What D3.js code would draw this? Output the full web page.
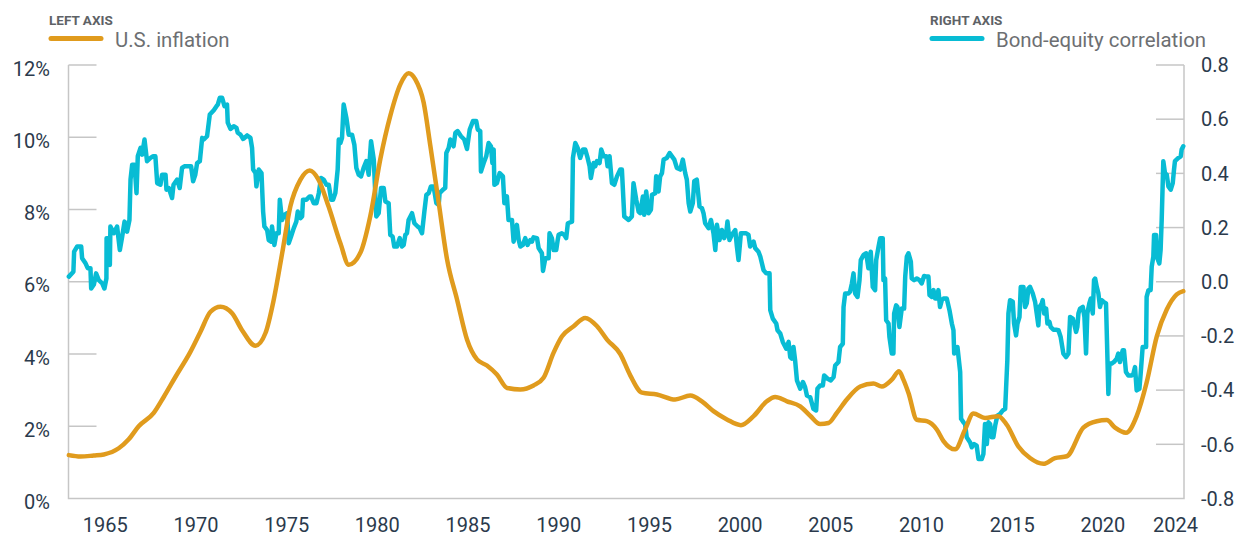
<!DOCTYPE html>
<html>
<head>
<meta charset="utf-8">
<script src="https://cdn.jsdelivr.net/npm/d3@7"></script>
<style>
  html, body { margin: 0; padding: 0; background: #fff; }
  svg { display: block; font-family: Roboto, "Liberation Sans", sans-serif; }
</style>
</head>
<body>
<svg id="chart" width="1241" height="539"></svg>
<script>

//////////////////////
// Data
//////////////////////

// U.S. inflation, % (left axis)
var inflationYears = [1963.02, 1963.66, 1964.39, 1964.95, 1965.77, 1966.32, 1966.87, 1967.70, 1968.25, 1968.90,
    1969.72, 1970.27, 1970.83, 1971.38, 1972.02, 1972.57, 1973.31, 1973.86, 1974.31, 1974.78,
    1975.23, 1975.78, 1976.30, 1976.79, 1977.34, 1978.00, 1978.45, 1979.09, 1979.64, 1980.19,
    1980.74, 1981.30, 1981.75, 1982.12, 1982.58, 1982.95, 1983.41, 1983.87, 1984.42, 1984.97,
    1985.52, 1986.07, 1986.62, 1987.18, 1987.91, 1988.64, 1989.19, 1989.74, 1990.21, 1990.85,
    1991.49, 1992.14, 1992.69, 1993.42, 1993.97, 1994.62, 1995.44, 1996.45, 1997.28, 1997.92,
    1998.56, 1999.30, 2000.07, 2000.77, 2001.50, 2001.96, 2002.61, 2003.34, 2003.89, 2004.44,
    2004.90, 2005.36, 2005.91, 2006.65, 2007.38, 2007.84, 2008.39, 2008.79, 2009.03, 2009.31,
    2009.77, 2010.32, 2010.87, 2011.24, 2011.88, 2012.43, 2012.89, 2013.53, 2014.27, 2014.73,
    2015.37, 2016.01, 2016.75, 2017.39, 2018.04, 2018.95, 2019.69, 2020.24, 2020.70, 2021.30,
    2021.89, 2022.44, 2023.00, 2023.55, 2024.10, 2024.46];
var inflationValues = [1.20, 1.16, 1.19, 1.22, 1.39, 1.64, 2.00, 2.37, 2.81, 3.37,
    4.06, 4.61, 5.17, 5.31, 5.13, 4.66, 4.23, 4.58, 5.49, 6.79,
    8.08, 8.82, 9.08, 8.82, 8.08, 7.05, 6.47, 6.80, 7.82, 9.39,
    10.59, 11.47, 11.77, 11.60, 10.96, 9.76, 8.19, 6.62, 5.51, 4.40,
    3.85, 3.68, 3.43, 3.06, 3.02, 3.13, 3.34, 4.03, 4.49, 4.77,
    5.00, 4.77, 4.40, 4.00, 3.41, 2.93, 2.88, 2.74, 2.85, 2.69,
    2.42, 2.19, 2.03, 2.28, 2.69, 2.81, 2.69, 2.55, 2.29, 2.06,
    2.09, 2.37, 2.74, 3.10, 3.18, 3.10, 3.29, 3.52, 3.29, 2.92,
    2.18, 2.14, 1.91, 1.59, 1.36, 1.91, 2.35, 2.23, 2.28, 2.04,
    1.44, 1.12, 0.96, 1.12, 1.17, 1.96, 2.14, 2.17, 1.96, 1.82,
    2.28, 3.21, 4.49, 5.23, 5.65, 5.74];

// Bond-equity correlation (right axis)
var correlationYears = [1963.02, 1963.27, 1963.31, 1963.48, 1963.70, 1963.75, 1963.94, 1964.06, 1964.21, 1964.25,
    1964.40, 1964.52, 1964.67, 1964.86, 1964.98, 1965.09, 1965.10, 1965.22, 1965.28, 1965.31,
    1965.50, 1965.68, 1965.83, 1965.96, 1966.09, 1966.23, 1966.36, 1966.42, 1966.51, 1966.64,
    1966.75, 1966.82, 1966.97, 1967.06, 1967.19, 1967.33, 1967.52, 1967.67, 1967.79, 1967.89,
    1968.07, 1968.16, 1968.35, 1968.40, 1968.53, 1968.71, 1968.79, 1968.99, 1969.13, 1969.26,
    1969.39, 1969.58, 1969.76, 1969.87, 1969.99, 1970.09, 1970.24, 1970.37, 1970.46, 1970.64,
    1970.79, 1971.01, 1971.16, 1971.23, 1971.34, 1971.47, 1971.60, 1971.74, 1971.78, 1971.93,
    1972.11, 1972.26, 1972.33, 1972.48, 1972.63, 1972.85, 1973.03, 1973.12, 1973.18, 1973.31,
    1973.36, 1973.49, 1973.64, 1973.73, 1973.80, 1973.95, 1974.04, 1974.17, 1974.22, 1974.35,
    1974.46, 1974.59, 1974.65, 1974.77, 1974.90, 1975.05, 1975.14, 1975.27, 1975.42, 1975.56,
    1975.64, 1975.79, 1975.88, 1975.93, 1976.12, 1976.30, 1976.37, 1976.52, 1976.67, 1976.80,
    1976.92, 1977.07, 1977.22, 1977.35, 1977.48, 1977.59, 1977.71, 1977.84, 1977.90, 1977.99,
    1978.08, 1978.17, 1978.32, 1978.45, 1978.63, 1978.76, 1978.87, 1979.00, 1979.13, 1979.27,
    1979.42, 1979.55, 1979.68, 1979.83, 1979.97, 1980.10, 1980.23, 1980.38, 1980.47, 1980.65,
    1980.74, 1980.87, 1980.96, 1981.11, 1981.26, 1981.39, 1981.48, 1981.57, 1981.66, 1981.75,
    1981.94, 1982.07, 1982.25, 1982.36, 1982.49, 1982.62, 1982.73, 1982.86, 1982.98, 1983.13,
    1983.28, 1983.41, 1983.46, 1983.65, 1983.77, 1983.83, 1983.96, 1984.05, 1984.23, 1984.33,
    1984.45, 1984.64, 1984.82, 1984.97, 1985.12, 1985.30, 1985.48, 1985.56, 1985.70, 1985.74,
    1985.89, 1986.03, 1986.16, 1986.29, 1986.37, 1986.44, 1986.48, 1986.62, 1986.77, 1986.95,
    1987.03, 1987.17, 1987.26, 1987.45, 1987.54, 1987.72, 1987.82, 1987.91, 1988.05, 1988.18,
    1988.31, 1988.46, 1988.55, 1988.64, 1988.83, 1988.92, 1989.10, 1989.16, 1989.29, 1989.47,
    1989.52, 1989.65, 1989.75, 1989.89, 1989.97, 1990.02, 1990.20, 1990.33, 1990.44, 1990.53,
    1990.76, 1990.81, 1990.94, 1991.07, 1991.21, 1991.36, 1991.49, 1991.62, 1991.73, 1991.80,
    1991.95, 1992.04, 1992.13, 1992.28, 1992.37, 1992.50, 1992.65, 1992.72, 1992.83, 1992.96,
    1993.09, 1993.24, 1993.42, 1993.51, 1993.64, 1993.88, 1994.06, 1994.15, 1994.30, 1994.43,
    1994.52, 1994.67, 1994.74, 1994.85, 1994.98, 1995.11, 1995.17, 1995.35, 1995.40, 1995.53,
    1995.62, 1995.72, 1995.81, 1995.99, 1996.14, 1996.27, 1996.40, 1996.54, 1996.73, 1996.87,
    1997.00, 1997.09, 1997.19, 1997.28, 1997.42, 1997.50, 1997.64, 1997.79, 1997.92, 1998.01,
    1998.10, 1998.29, 1998.42, 1998.56, 1998.66, 1998.75, 1998.89, 1999.02, 1999.15, 1999.26,
    1999.33, 1999.44, 1999.57, 1999.76, 1999.85, 1999.94, 2000.07, 2000.18, 2000.36, 2000.49,
    2000.58, 2000.77, 2000.86, 2001.04, 2001.14, 2001.32, 2001.47, 2001.65, 2001.69, 2001.83,
    2002.02, 2002.09, 2002.24, 2002.38, 2002.57, 2002.70, 2002.79, 2002.88, 2002.97, 2003.06,
    2003.16, 2003.34, 2003.49, 2003.61, 2003.71, 2003.89, 2004.07, 2004.22, 2004.29, 2004.44,
    2004.59, 2004.66, 2004.85, 2005.03, 2005.18, 2005.27, 2005.45, 2005.54, 2005.69, 2005.73,
    2005.82, 2006.00, 2006.09, 2006.19, 2006.28, 2006.37, 2006.50, 2006.61, 2006.68, 2006.83,
    2006.98, 2007.10, 2007.23, 2007.34, 2007.47, 2007.53, 2007.66, 2007.75, 2007.89, 2007.93,
    2008.02, 2008.08, 2008.21, 2008.26, 2008.39, 2008.48, 2008.52, 2008.63, 2008.70, 2008.81,
    2008.94, 2009.07, 2009.13, 2009.22, 2009.31, 2009.44, 2009.49, 2009.62, 2009.77, 2009.92,
    2010.04, 2010.17, 2010.32, 2010.41, 2010.47, 2010.60, 2010.69, 2010.78, 2010.87, 2010.96,
    2011.05, 2011.15, 2011.24, 2011.42, 2011.57, 2011.70, 2011.79, 2011.83, 2012.01, 2012.16,
    2012.21, 2012.34, 2012.43, 2012.52, 2012.71, 2012.80, 2012.93, 2013.07, 2013.17, 2013.35,
    2013.44, 2013.53, 2013.63, 2013.72, 2013.81, 2013.90, 2013.99, 2014.09, 2014.21, 2014.36,
    2014.51, 2014.64, 2014.69, 2014.76, 2014.82, 2014.91, 2015.06, 2015.13, 2015.24, 2015.32,
    2015.43, 2015.50, 2015.65, 2015.74, 2015.83, 2015.92, 2016.01, 2016.16, 2016.29, 2016.38,
    2016.47, 2016.53, 2016.66, 2016.71, 2016.79, 2016.90, 2016.97, 2017.08, 2017.15, 2017.30,
    2017.45, 2017.58, 2017.70, 2017.85, 2018.00, 2018.13, 2018.22, 2018.37, 2018.44, 2018.55,
    2018.62, 2018.68, 2018.77, 2018.92, 2019.01, 2019.10, 2019.17, 2019.28, 2019.36, 2019.47,
    2019.54, 2019.60, 2019.69, 2019.78, 2019.87, 2019.96, 2020.06, 2020.20, 2020.33, 2020.39,
    2020.51, 2020.64, 2020.79, 2020.88, 2020.97, 2021.12, 2021.19, 2021.30, 2021.43, 2021.62,
    2021.71, 2021.80, 2021.89, 2022.04, 2022.11, 2022.22, 2022.41, 2022.44, 2022.54, 2022.66,
    2022.72, 2022.81, 2022.85, 2022.96, 2023.03, 2023.14, 2023.21, 2023.27, 2023.36, 2023.45,
    2023.55, 2023.64, 2023.77, 2023.88, 2023.95, 2024.00, 2024.19, 2024.32, 2024.37, 2024.46];
var correlationValues = [0.019, 0.037, 0.111, 0.130, 0.130, 0.087, 0.068, 0.050, 0.050, -0.025,
    -0.010, 0.031, 0.006, -0.006, -0.025, 0.012, 0.161, 0.161, 0.062, 0.204,
    0.179, 0.204, 0.117, 0.167, 0.222, 0.185, 0.228, 0.377, 0.432, 0.432,
    0.327, 0.463, 0.494, 0.469, 0.525, 0.445, 0.457, 0.463, 0.463, 0.364,
    0.358, 0.395, 0.395, 0.340, 0.346, 0.309, 0.358, 0.377, 0.346, 0.420,
    0.426, 0.426, 0.426, 0.371, 0.395, 0.438, 0.445, 0.531, 0.525, 0.537,
    0.617, 0.633, 0.648, 0.654, 0.679, 0.679, 0.648, 0.654, 0.587, 0.564,
    0.574, 0.568, 0.550, 0.543, 0.527, 0.540, 0.531, 0.494, 0.414, 0.401,
    0.352, 0.414, 0.401, 0.259, 0.204, 0.191, 0.154, 0.148, 0.204, 0.136,
    0.179, 0.179, 0.303, 0.228, 0.247, 0.253, 0.142, 0.167, 0.198, 0.222,
    0.259, 0.235, 0.241, 0.303, 0.303, 0.315, 0.315, 0.290, 0.290, 0.327,
    0.383, 0.377, 0.358, 0.358, 0.303, 0.303, 0.327, 0.414, 0.525, 0.512,
    0.531, 0.654, 0.605, 0.543, 0.543, 0.506, 0.420, 0.395, 0.389, 0.420,
    0.445, 0.395, 0.519, 0.451, 0.241, 0.253, 0.346, 0.346, 0.296, 0.290,
    0.173, 0.167, 0.130, 0.130, 0.161, 0.130, 0.136, 0.173, 0.179, 0.228,
    0.253, 0.216, 0.204, 0.198, 0.179, 0.259, 0.321, 0.327, 0.352, 0.352,
    0.290, 0.284, 0.327, 0.340, 0.346, 0.475, 0.494, 0.525, 0.500, 0.550,
    0.556, 0.537, 0.525, 0.490, 0.562, 0.593, 0.593, 0.562, 0.556, 0.407,
    0.438, 0.463, 0.512, 0.500, 0.438, 0.488, 0.358, 0.364, 0.401, 0.389,
    0.290, 0.315, 0.228, 0.228, 0.148, 0.210, 0.154, 0.130, 0.136, 0.161,
    0.136, 0.154, 0.148, 0.164, 0.161, 0.124, 0.105, 0.040, 0.087, 0.087,
    0.179, 0.161, 0.117, 0.117, 0.154, 0.173, 0.179, 0.173, 0.161, 0.216,
    0.222, 0.457, 0.512, 0.494, 0.457, 0.488, 0.488, 0.457, 0.426, 0.383,
    0.438, 0.426, 0.445, 0.438, 0.488, 0.463, 0.463, 0.426, 0.463, 0.364,
    0.358, 0.389, 0.414, 0.414, 0.241, 0.228, 0.241, 0.364, 0.303, 0.259,
    0.253, 0.315, 0.247, 0.333, 0.253, 0.266, 0.321, 0.327, 0.389, 0.333,
    0.389, 0.401, 0.451, 0.457, 0.475, 0.463, 0.451, 0.420, 0.414, 0.451,
    0.401, 0.377, 0.290, 0.259, 0.290, 0.371, 0.377, 0.278, 0.272, 0.253,
    0.216, 0.198, 0.228, 0.179, 0.117, 0.210, 0.154, 0.191, 0.161, 0.179,
    0.222, 0.154, 0.173, 0.191, 0.130, 0.080, 0.179, 0.179, 0.179, 0.173,
    0.130, 0.148, 0.124, 0.111, 0.093, 0.043, 0.031, 0.031, -0.105, -0.136,
    -0.154, -0.179, -0.191, -0.222, -0.247, -0.222, -0.278, -0.284, -0.241, -0.290,
    -0.364, -0.395, -0.370, -0.389, -0.420, -0.426, -0.469, -0.475, -0.395, -0.383,
    -0.383, -0.346, -0.358, -0.364, -0.352, -0.309, -0.296, -0.241, -0.229, -0.093,
    -0.043, -0.043, -0.037, -0.006, 0.031, -0.043, -0.056, 0.006, 0.080, 0.099,
    0.105, 0.050, 0.111, -0.019, -0.031, 0.080, 0.130, 0.161, 0.161, 0.006,
    0.012, -0.142, -0.154, -0.204, -0.265, -0.265, -0.117, -0.087, -0.093, -0.167,
    -0.099, -0.099, 0.019, 0.093, 0.105, 0.074, 0.012, 0.006, 0.012, 0.006,
    -0.006, 0.021, 0.019, 0.019, -0.049, -0.056, -0.031, -0.062, -0.062, -0.031,
    -0.093, -0.068, -0.062, -0.062, -0.105, -0.154, -0.179, -0.265, -0.241, -0.333,
    -0.506, -0.519, -0.525, -0.574, -0.593, -0.611, -0.599, -0.605, -0.654, -0.654,
    -0.636, -0.525, -0.599, -0.519, -0.525, -0.574, -0.574, -0.531, -0.494, -0.488,
    -0.475, -0.469, -0.395, -0.290, -0.117, -0.068, -0.074, -0.154, -0.198, -0.154,
    -0.130, -0.019, -0.019, -0.093, -0.080, -0.025, -0.019, -0.043, -0.074, -0.117,
    -0.161, -0.093, -0.080, -0.068, -0.117, -0.099, -0.154, -0.148, -0.167, -0.177,
    -0.177, -0.179, -0.204, -0.265, -0.278, -0.265, -0.130, -0.136, -0.154, -0.185,
    -0.167, -0.117, -0.099, -0.093, -0.130, -0.265, -0.117, -0.080, -0.062, -0.117,
    0.006, 0.012, -0.019, -0.043, -0.093, -0.068, -0.074, -0.080, -0.414, -0.302,
    -0.302, -0.296, -0.284, -0.265, -0.296, -0.253, -0.253, -0.333, -0.346, -0.346,
    -0.340, -0.315, -0.401, -0.395, -0.340, -0.241, -0.241, -0.056, -0.031, -0.031,
    0.056, 0.093, 0.173, 0.173, 0.087, 0.068, 0.117, 0.228, 0.445, 0.401,
    0.395, 0.352, 0.340, 0.364, 0.414, 0.445, 0.457, 0.463, 0.488, 0.500];

// axis ticks
var yearTicks = [1965, 1970, 1975, 1980, 1985, 1990, 1995, 2000, 2005, 2010, 2015, 2020, 2024];
var leftTicks = [0, 2, 4, 6, 8, 10, 12];
var rightTicks = [-0.8, -0.6, -0.4, -0.2, 0.0, 0.2, 0.4, 0.6, 0.8];

//////////////////////
// Setup
//////////////////////

var svg = d3.select("#chart");

var plotLeft = 68.5, plotRight = 1184, plotTop = 65, plotBottom = 498.5;
var gridColor = "#c6c6c6";
var textColor = "#2b3a4c";
var orange = "#e09b1d";
var cyan = "#08bcd4";

var x = d3.scaleLinear().domain([1963, 2024.5]).range([plotLeft, plotRight]);
var yLeft = d3.scaleLinear().domain([0, 12]).range([plotBottom, plotTop]);
var yRight = d3.scaleLinear().domain([-0.8, 0.8]).range([plotBottom, plotTop]);

var inflation = inflationYears.map(function(d, i) { return { year: d, value: inflationValues[i] }; });
var correlation = correlationYears.map(function(d, i) { return { year: d, value: correlationValues[i] }; });

//////////////////////
// Axes
//////////////////////

// left axis: short inward ticks
var leftAxis = svg.append("g").attr("class", "axis-left");
leftAxis.selectAll("line.tick")
    .data(leftTicks.filter(function(d) { return d > 0; }))
    .enter().append("line")
        .attr("class", "tick")
        .attr("x1", plotLeft).attr("x2", plotLeft + 28)
        .attr("y1", function(d) { return yLeft(d); })
        .attr("y2", function(d) { return yLeft(d); })
        .attr("stroke", gridColor).attr("stroke-width", 1.5);
leftAxis.selectAll("text")
    .data(leftTicks)
    .enter().append("text")
        .attr("x", 50)
        .attr("y", function(d) { return yLeft(d) + 3.5; })
        .attr("dy", "0.36em")
        .attr("text-anchor", "end")
        .attr("fill", textColor)
        .attr("font-size", 20)
        .text(function(d) { return d + "%"; });

// right axis
var rightAxis = svg.append("g").attr("class", "axis-right");
rightAxis.selectAll("line.tick")
    .data(rightTicks.filter(function(d) { return d > -0.8; }))
    .enter().append("line")
        .attr("class", "tick")
        .attr("x1", plotRight - 28).attr("x2", plotRight)
        .attr("y1", function(d) { return yRight(d); })
        .attr("y2", function(d) { return yRight(d); })
        .attr("stroke", gridColor).attr("stroke-width", 1.5);
rightAxis.selectAll("text")
    .data(rightTicks)
    .enter().append("text")
        .attr("x", 1201)
        .attr("y", function(d) { return yRight(d); })
        .attr("dy", "0.36em")
        .attr("text-anchor", "start")
        .attr("fill", textColor)
        .attr("font-size", 20)
        .text(function(d) { return d3.format(".1f")(d).replace("−", "-"); });

// frame lines (left, right, bottom)
svg.append("path")
    .attr("d", "M" + plotLeft + "," + plotTop + "V" + plotBottom + "H" + plotRight + "V" + plotTop)
    .attr("fill", "none")
    .attr("stroke", gridColor)
    .attr("stroke-width", 1.5);

// bottom axis labels
var xAxis = d3.axisBottom(x)
    .tickValues(yearTicks)
    .tickSize(0)
    .tickPadding(0)
    .tickFormat(d3.format("d"));

var xg = svg.append("g")
    .attr("transform", "translate(0," + 518 + ")")
    .call(xAxis);
xg.select(".domain").remove();
xg.selectAll("text")
    .attr("fill", textColor)
    .attr("font-size", 20)
    .attr("font-family", "Roboto, 'Liberation Sans', sans-serif")
    .attr("dy", "0.71em");

//////////////////////
// Lines
//////////////////////

var lineInflation = d3.line()
    .x(function(d) { return x(d.year); })
    .y(function(d) { return yLeft(d.value); })
    .curve(d3.curveMonotoneX);

var lineCorrelation = d3.line()
    .x(function(d) { return x(d.year); })
    .y(function(d) { return yRight(d.value); });

svg.append("path")
    .datum(correlation)
    .attr("class", "correlation")
    .attr("fill", "none")
    .attr("stroke", cyan)
    .attr("stroke-width", 4.5)
    .attr("stroke-linejoin", "round")
    .attr("stroke-linecap", "round")
    .attr("d", lineCorrelation);

svg.append("path")
    .datum(inflation)
    .attr("class", "inflation")
    .attr("fill", "none")
    .attr("stroke", orange)
    .attr("stroke-width", 4.5)
    .attr("stroke-linejoin", "round")
    .attr("stroke-linecap", "round")
    .attr("d", lineInflation);

//////////////////////
// Legend
//////////////////////

function legendItem(x0, title, label, color) {
    var g = svg.append("g").attr("class", "legend");
    g.append("text")
        .attr("x", x0).attr("y", 25)
        .attr("font-size", 13.5)
        .attr("font-weight", "bold")
        .attr("fill", "#5e6266")
        .text(title);
    g.append("line")
        .attr("x1", x0 + 2).attr("x2", x0 + 52)
        .attr("y1", 38.5).attr("y2", 38.5)
        .attr("stroke", color)
        .attr("stroke-width", 5)
        .attr("stroke-linecap", "round");
    g.append("text")
        .attr("x", x0 + 66).attr("y", 47)
        .attr("font-size", 20.4)
        .attr("fill", "#6d6f72")
        .text(label);
}

legendItem(49, "LEFT AXIS", "U.S. inflation", orange);
legendItem(930, "RIGHT AXIS", "Bond-equity correlation", cyan);

</script>
</body>
</html>
